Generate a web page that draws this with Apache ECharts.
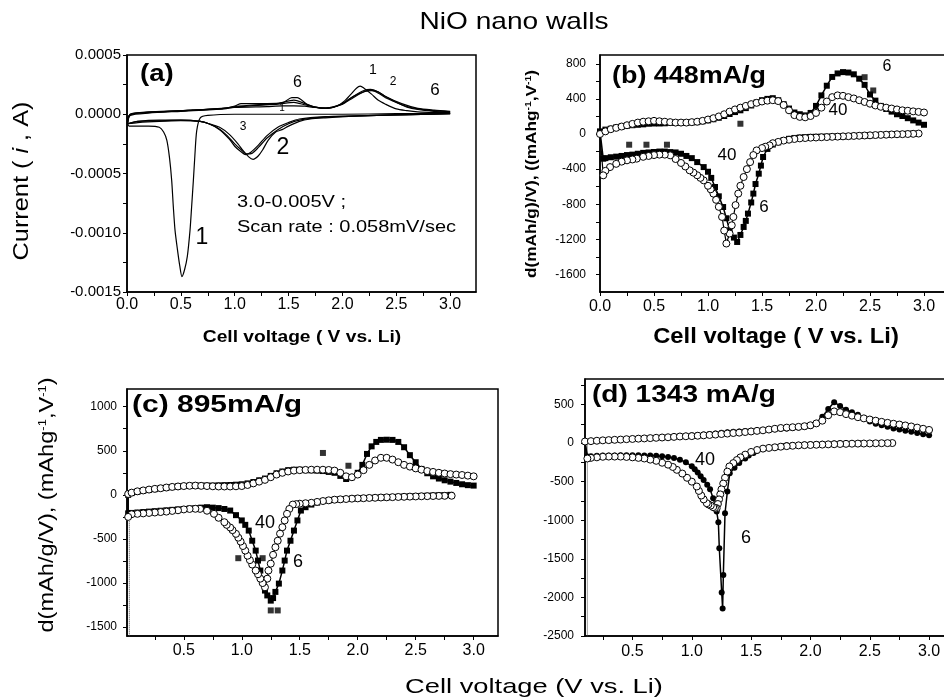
<!DOCTYPE html>
<html lang="en">
<head>
<meta charset="UTF-8">
<title>NiO nano walls</title>
<script src="https://cdn.jsdelivr.net/npm/echarts@6.0.0/dist/echarts.min.js"></script>
<style>
  html, body { margin: 0; padding: 0; background: #fff; }
  #main { width: 944px; height: 700px; }
</style>
</head>
<body>
<div id="main"></div>
<script>
// ---------- panel (a): cyclic voltammetry, current in A ----------
var a1Dis = [[3.0,0.00001],[2.5,0.000005],[2.0,0],[1.5,0],[1.0,0],[0.75,-0.00001],[0.68,-0.00003],[0.647,-0.00014],[0.63,-0.00035],[0.616,-0.00056],[0.6,-0.00078],[0.585,-0.00098],[0.56,-0.0012],[0.535,-0.00131],[0.51,-0.00137],[0.49,-0.00128],[0.468,-0.00114],[0.446,-0.00098],[0.43,-0.00078],[0.415,-0.00056],[0.395,-0.00037],[0.37,-0.00022],[0.34,-0.00015],[0.3,-0.00011],[0.2,-0.0001],[0.1,-0.0001],[0.02,-0.0001],[0.005,-0.00007]];
var a1Chg = [[0.005,-0.00007],[0.02,-0.00001],[0.1,0.00001],[0.3,0.00002],[0.6,0.000034],[1.0,0.000057],[1.3,0.000065],[1.44,0.00007],[1.55,0.00007],[1.65,0.000068],[1.745,0.000057],[1.85,0.000055],[1.95,0.00007],[2.02,0.000113],[2.08,0.00017],[2.13,0.00022],[2.165,0.000237],[2.2,0.00022],[2.27,0.00017],[2.33,0.00012],[2.4,0.000085],[2.5,0.000045],[2.6,0.00003],[2.7,0.00002],[2.85,0.000015],[3.0,0.000014]];
var a2Dis = [[3.0,0.000005],[2.5,-0.000005],[2.15,-0.000014],[1.84,-0.00003],[1.7,-0.00004],[1.6,-0.00006],[1.5,-0.0001],[1.44,-0.00013],[1.38,-0.00015],[1.31,-0.00022],[1.26,-0.0003],[1.22,-0.00035],[1.17,-0.00038],[1.13,-0.00036],[1.08,-0.00031],[1.03,-0.00025],[0.95,-0.00017],[0.86,-0.00011],[0.76,-0.00008],[0.68,-0.00006],[0.5,-0.000055],[0.3,-0.00006],[0.1,-0.00007],[0.005,-0.00008]];
var a2Chg = [[0.005,-0.00008],[0.03,-0.00001],[0.2,0.00001],[0.5,0.000025],[0.9,0.000045],[1.0,0.00006],[1.2,0.000075],[1.4,0.000085],[1.55,0.0001],[1.65,0.00008],[1.75,0.00006],[1.85,0.00005],[1.99,0.00008],[2.1,0.00014],[2.2,0.00019],[2.26,0.000205],[2.33,0.00018],[2.4,0.00014],[2.5,0.0001],[2.6,0.00006],[2.7,0.00004],[2.85,0.000025],[3.0,0.000017]];
var a3Dis = [[3.0,0.000005],[2.5,-0.000005],[2.15,-0.000014],[1.84,-0.000025],[1.6,-0.00005],[1.5,-0.00008],[1.4,-0.00013],[1.3,-0.0002],[1.22,-0.00028],[1.16,-0.00033],[1.11,-0.000335],[1.06,-0.0003],[1.0,-0.00025],[0.93,-0.00018],[0.85,-0.00012],[0.76,-0.00008],[0.68,-0.00006],[0.5,-0.00005],[0.3,-0.000055],[0.1,-0.00006],[0.005,-0.00008]];
var a3Chg = [[0.005,-0.00008],[0.03,0],[0.2,0.000015],[0.5,0.00003],[0.9,0.00005],[1.0,0.000065],[1.2,0.00008],[1.4,0.00009],[1.55,0.00012],[1.65,0.00009],[1.75,0.00006],[1.85,0.00005],[1.99,0.000085],[2.1,0.00015],[2.2,0.0002],[2.26,0.00021],[2.33,0.00019],[2.4,0.00015],[2.55,0.00008],[2.7,0.000045],[2.85,0.00003],[3.0,0.00002]];
var a6Dis = [[3.0,0.000005],[2.5,-0.000005],[2.15,-0.000014],[1.84,-0.00002],[1.6,-0.00004],[1.5,-0.00007],[1.4,-0.00011],[1.3,-0.00018],[1.22,-0.00026],[1.15,-0.00032],[1.1,-0.00034],[1.05,-0.00031],[1.0,-0.00027],[0.95,-0.00021],[0.86,-0.00013],[0.76,-0.00008],[0.68,-0.00006],[0.5,-0.00005],[0.3,-0.00005],[0.1,-0.00006],[0.005,-0.00008]];
var a6Chg = [[0.005,-0.00008],[0.03,0],[0.2,0.00002],[0.5,0.00003],[0.9,0.00005],[1.0,0.00007],[1.06,0.00009],[1.3,0.00009],[1.45,0.0001],[1.53,0.00014],[1.58,0.00014],[1.67,0.000085],[1.745,0.00006],[1.84,0.00005],[1.99,0.000085],[2.1,0.00015],[2.2,0.00019],[2.27,0.0002],[2.33,0.00019],[2.4,0.00015],[2.55,0.00009],[2.7,0.00005],[2.85,0.000035],[3.0,0.000025]];

// ---------- panel (b): 448 mA/g, dQ/dV ----------
var b6Dis = [[2.9,5],[2.85,2],[2.8,0],[2.75,-2],[2.7,-5],[2.65,-8],[2.6,-10],[2.55,-12],[2.5,-15],[2.45,-18],[2.4,-20],[2.35,-22],[2.3,-25],[2.25,-27],[2.2,-28],[2.15,-29],[2.1,-30],[2.05,-31],[2.0,-32],[1.95,-33],[1.9,-35],[1.85,-40],[1.8,-45],[1.75,-55],[1.7,-70],[1.65,-95],[1.6,-120],[1.55,-170],[1.51,-262],[1.49,-360],[1.47,-452],[1.44,-570],[1.42,-679],[1.4,-780],[1.37,-907],[1.35,-990],[1.33,-1059],[1.3,-1150],[1.27,-1230],[1.24,-1180],[1.2,-1097],[1.17,-960],[1.14,-832],[1.1,-710],[1.065,-604],[1.03,-500],[1.0,-430],[0.96,-377],[0.9,-320],[0.85,-275],[0.8,-250],[0.75,-225],[0.7,-210],[0.65,-206],[0.6,-200],[0.55,-200],[0.5,-205],[0.45,-210],[0.4,-215],[0.35,-225],[0.3,-235],[0.25,-240],[0.2,-250],[0.15,-258],[0.1,-265],[0.05,-275],[0.03,-281]];
var b6Chg = [[0,30],[0.05,50],[0.1,60],[0.15,75],[0.2,85],[0.25,95],[0.3,100],[0.35,105],[0.4,110],[0.45,117],[0.5,120],[0.55,120],[0.6,122],[0.65,125],[0.7,125],[0.75,128],[0.8,130],[0.85,132],[0.9,135],[0.95,145],[1.0,155],[1.05,168],[1.1,185],[1.15,205],[1.2,228],[1.25,250],[1.3,270],[1.35,295],[1.4,325],[1.45,360],[1.5,385],[1.55,400],[1.6,408],[1.65,385],[1.7,340],[1.75,290],[1.8,245],[1.85,225],[1.9,212],[1.95,240],[2.0,320],[2.05,440],[2.1,550],[2.15,650],[2.2,690],[2.25,705],[2.3,700],[2.35,680],[2.4,630],[2.45,560],[2.5,450],[2.55,380],[2.6,320],[2.65,285],[2.7,255],[2.75,225],[2.8,205],[2.85,180],[2.9,155],[2.95,130],[3.0,105]];
var b40Dis = [[2.95,5],[2.9,2],[2.85,0],[2.8,-2],[2.75,-3],[2.7,-5],[2.65,-8],[2.6,-10],[2.55,-12],[2.5,-15],[2.45,-17],[2.4,-20],[2.35,-22],[2.3,-25],[2.25,-27],[2.2,-30],[2.15,-32],[2.1,-35],[2.05,-37],[2.0,-40],[1.95,-42],[1.9,-46],[1.85,-50],[1.8,-57],[1.75,-65],[1.7,-75],[1.65,-90],[1.6,-105],[1.57,-130],[1.53,-145],[1.5,-160],[1.45,-187],[1.42,-240],[1.39,-320],[1.36,-400],[1.33,-490],[1.3,-590],[1.28,-679],[1.255,-810],[1.235,-945],[1.22,-1040],[1.2,-1134],[1.17,-1248],[1.15,-1100],[1.13,-945],[1.1,-830],[1.075,-750],[1.05,-679],[1.025,-630],[1.0,-590],[0.96,-528],[0.93,-500],[0.9,-470],[0.865,-440],[0.83,-414],[0.79,-370],[0.75,-330],[0.7,-285],[0.65,-243],[0.6,-235],[0.55,-235],[0.5,-240],[0.45,-250],[0.4,-260],[0.34,-281],[0.3,-290],[0.25,-300],[0.2,-315],[0.15,-340],[0.093,-377],[0.05,-420],[0.03,-471]];
var b40Chg = [[0,0],[0.05,30],[0.1,55],[0.15,70],[0.2,85],[0.25,100],[0.3,115],[0.35,130],[0.4,140],[0.45,145],[0.5,150],[0.55,145],[0.6,140],[0.65,135],[0.7,130],[0.75,130],[0.8,130],[0.85,135],[0.9,140],[0.95,150],[1.0,165],[1.05,180],[1.1,200],[1.15,225],[1.2,255],[1.25,280],[1.3,300],[1.35,320],[1.4,340],[1.45,355],[1.5,370],[1.55,380],[1.6,385],[1.65,375],[1.7,330],[1.75,270],[1.8,215],[1.85,195],[1.9,190],[1.95,205],[2.0,240],[2.05,300],[2.1,370],[2.15,420],[2.2,440],[2.25,435],[2.3,420],[2.35,405],[2.4,385],[2.45,365],[2.5,345],[2.55,325],[2.6,310],[2.65,300],[2.7,290],[2.75,280],[2.8,270],[2.85,265],[2.9,258],[2.95,252],[3.0,245]];
var b6Stray = [[0.27,-122],[0.43,-122],[0.62,-122],[1.3,117],[2.45,647],[2.53,496]];

// ---------- panel (c): 895 mA/g ----------
var c6Dis = [[2.8,0],[2.75,-3],[2.7,-5],[2.65,-8],[2.6,-10],[2.55,-12],[2.5,-15],[2.45,-18],[2.4,-20],[2.35,-22],[2.3,-25],[2.25,-28],[2.2,-30],[2.15,-33],[2.1,-35],[2.05,-38],[2.0,-40],[1.95,-43],[1.9,-47],[1.85,-51],[1.8,-55],[1.75,-62],[1.7,-70],[1.65,-88],[1.6,-110],[1.55,-140],[1.51,-178],[1.48,-290],[1.45,-405],[1.42,-520],[1.39,-632],[1.37,-745],[1.35,-858],[1.32,-1006],[1.29,-1100],[1.27,-1170],[1.25,-1199],[1.22,-1140],[1.2,-1085],[1.18,-970],[1.16,-858],[1.14,-745],[1.12,-632],[1.09,-520],[1.06,-405],[1.03,-340],[1.0,-290],[0.95,-230],[0.9,-178],[0.85,-160],[0.8,-150],[0.75,-145],[0.7,-140],[0.65,-145],[0.6,-150],[0.55,-155],[0.5,-160],[0.45,-165],[0.4,-170],[0.35,-175],[0.3,-180],[0.25,-185],[0.2,-190],[0.15,-195],[0.1,-200],[0.05,-205],[0.02,-210]];
var c6Chg = [[0.02,0],[0.05,20],[0.1,35],[0.15,45],[0.2,55],[0.25,65],[0.3,75],[0.35,80],[0.4,88],[0.45,95],[0.5,100],[0.55,103],[0.6,105],[0.65,105],[0.7,105],[0.75,105],[0.8,108],[0.85,110],[0.9,112],[0.95,115],[1.0,120],[1.05,130],[1.1,145],[1.15,165],[1.2,185],[1.25,215],[1.3,245],[1.35,265],[1.4,280],[1.45,285],[1.5,285],[1.55,280],[1.6,278],[1.65,275],[1.7,270],[1.75,260],[1.8,250],[1.85,215],[1.9,180],[1.95,200],[2.0,250],[2.04,340],[2.08,464],[2.12,550],[2.16,600],[2.2,623],[2.25,625],[2.3,623],[2.35,600],[2.4,540],[2.45,450],[2.5,370],[2.55,294],[2.6,245],[2.65,210],[2.7,185],[2.75,165],[2.8,150],[2.85,135],[2.9,120],[2.95,110],[3.0,105]];
var c40Dis = [[2.81,-10],[2.75,-11],[2.7,-12],[2.65,-13],[2.6,-15],[2.55,-16],[2.5,-18],[2.45,-20],[2.4,-22],[2.35,-24],[2.3,-26],[2.25,-28],[2.2,-30],[2.15,-33],[2.1,-35],[2.05,-38],[2.0,-40],[1.95,-43],[1.9,-47],[1.85,-51],[1.8,-55],[1.75,-62],[1.7,-70],[1.65,-80],[1.6,-90],[1.55,-95],[1.5,-100],[1.47,-105],[1.44,-110],[1.41,-160],[1.39,-215],[1.37,-290],[1.35,-367],[1.33,-440],[1.31,-520],[1.29,-594],[1.27,-680],[1.25,-780],[1.23,-858],[1.22,-950],[1.2,-1048],[1.18,-1000],[1.16,-950],[1.14,-900],[1.12,-858],[1.09,-790],[1.07,-740],[1.05,-690],[1.03,-632],[1.01,-580],[0.99,-530],[0.97,-485],[0.95,-442],[0.92,-400],[0.9,-370],[0.87,-340],[0.85,-310],[0.8,-260],[0.76,-215],[0.7,-180],[0.64,-159],[0.6,-158],[0.55,-160],[0.5,-165],[0.45,-175],[0.4,-182],[0.35,-190],[0.3,-195],[0.25,-200],[0.2,-205],[0.15,-210],[0.1,-215],[0.05,-220],[0.02,-250]];
var c40Chg = [[0.02,10],[0.05,25],[0.1,40],[0.15,50],[0.2,60],[0.25,68],[0.3,75],[0.35,83],[0.4,90],[0.45,95],[0.5,100],[0.55,103],[0.6,105],[0.65,102],[0.7,100],[0.75,97],[0.8,95],[0.85,95],[0.9,95],[0.95,97],[1.0,100],[1.05,112],[1.1,130],[1.15,150],[1.2,170],[1.25,200],[1.3,230],[1.35,250],[1.4,265],[1.45,275],[1.5,280],[1.55,283],[1.6,285],[1.65,285],[1.7,285],[1.75,282],[1.8,275],[1.85,250],[1.9,210],[1.95,200],[2.0,230],[2.05,280],[2.1,340],[2.15,390],[2.2,420],[2.25,420],[2.3,400],[2.35,370],[2.4,340],[2.45,320],[2.5,300],[2.55,285],[2.6,270],[2.65,260],[2.7,250],[2.75,242],[2.8,235],[2.85,230],[2.9,225],[2.95,218],[3.0,210]];
var c6Stray = [[0.97,-718],[1.18,-718],[1.25,-1310],[1.31,-1310],[1.7,475],[1.92,330]];
var cDrop = [[0.03,-300],[0.03,-1700]];

// ---------- panel (d): 1343 mA/g ----------
var d6Dis = [[2.41,0],[2.35,-2],[2.3,-3],[2.25,-4],[2.2,-5],[2.15,-8],[2.1,-10],[2.05,-12],[2.0,-15],[1.95,-18],[1.9,-22],[1.85,-26],[1.8,-30],[1.77,-42],[1.74,-52],[1.7,-55],[1.65,-60],[1.6,-75],[1.55,-100],[1.52,-130],[1.48,-160],[1.45,-200],[1.4,-260],[1.36,-320],[1.32,-390],[1.3,-628],[1.28,-909],[1.266,-1710],[1.26,-2143],[1.252,-1935],[1.232,-1364],[1.224,-1026],[1.21,-888],[1.18,-714],[1.154,-600],[1.13,-540],[1.1,-480],[1.075,-430],[1.05,-380],[1.025,-340],[1.0,-300],[0.95,-250],[0.9,-215],[0.85,-195],[0.8,-180],[0.75,-172],[0.7,-165],[0.65,-162],[0.6,-160],[0.55,-158],[0.5,-158],[0.45,-158],[0.4,-158],[0.35,-160],[0.3,-160],[0.25,-162],[0.2,-165],[0.15,-170],[0.12,-174]];
var d6Chg = [[0.1,20],[0.15,25],[0.2,30],[0.25,35],[0.3,40],[0.35,42],[0.4,45],[0.45,50],[0.5,55],[0.55,58],[0.6,60],[0.65,65],[0.7,70],[0.75,75],[0.8,80],[0.85,85],[0.9,90],[0.95,95],[1.0,100],[1.05,105],[1.1,110],[1.15,118],[1.2,125],[1.25,132],[1.3,140],[1.35,145],[1.4,150],[1.45,155],[1.5,160],[1.55,165],[1.6,170],[1.65,175],[1.7,180],[1.75,185],[1.8,190],[1.85,195],[1.9,200],[1.95,208],[2.0,220],[2.05,260],[2.1,340],[2.15,440],[2.2,530],[2.25,480],[2.3,430],[2.35,400],[2.4,368],[2.45,320],[2.5,280],[2.55,250],[2.6,230],[2.65,210],[2.7,190],[2.75,175],[2.8,160],[2.85,145],[2.9,130],[2.95,115],[3.0,100]];
var d40Dis = [[2.69,0],[2.65,-1],[2.6,-2],[2.55,-3],[2.5,-5],[2.45,-6],[2.4,-7],[2.35,-8],[2.3,-10],[2.25,-12],[2.2,-15],[2.15,-17],[2.1,-20],[2.05,-22],[2.0,-25],[1.95,-27],[1.9,-30],[1.85,-35],[1.8,-40],[1.75,-47],[1.7,-55],[1.65,-63],[1.6,-72],[1.55,-90],[1.5,-115],[1.45,-150],[1.41,-185],[1.38,-220],[1.35,-260],[1.317,-303],[1.3,-370],[1.28,-450],[1.265,-525],[1.25,-600],[1.24,-665],[1.23,-730],[1.22,-790],[1.21,-844],[1.195,-840],[1.18,-830],[1.16,-810],[1.14,-795],[1.126,-779],[1.1,-730],[1.08,-680],[1.06,-620],[1.042,-563],[1.0,-500],[0.96,-450],[0.92,-395],[0.874,-347],[0.84,-310],[0.8,-280],[0.75,-255],[0.7,-230],[0.65,-215],[0.6,-200],[0.55,-192],[0.5,-185],[0.45,-180],[0.4,-175],[0.35,-175],[0.3,-175],[0.25,-178],[0.2,-185],[0.15,-192],[0.12,-200]];
var d40Chg = [[0.1,20],[0.15,25],[0.2,30],[0.25,35],[0.3,38],[0.35,42],[0.4,45],[0.45,50],[0.5,53],[0.55,57],[0.6,60],[0.65,64],[0.7,68],[0.75,72],[0.8,75],[0.85,80],[0.9,85],[0.95,88],[1.0,90],[1.05,95],[1.1,100],[1.15,105],[1.2,110],[1.25,117],[1.3,123],[1.35,130],[1.4,135],[1.45,143],[1.5,150],[1.55,158],[1.6,165],[1.65,175],[1.7,185],[1.75,195],[1.8,200],[1.85,205],[1.9,210],[1.95,218],[2.0,230],[2.05,255],[2.1,290],[2.15,360],[2.2,410],[2.25,400],[2.3,375],[2.35,355],[2.4,335],[2.45,320],[2.5,305],[2.55,290],[2.6,275],[2.65,262],[2.7,250],[2.75,240],[2.8,228],[2.85,215],[2.9,200],[2.95,185],[3.0,170]];
var dDrop = [[0.12,20],[0.12,-2600]];

// ---------- ticks and labels ----------
var xTicks0 = [0,0.25,0.5,0.75,1,1.25,1.5,1.75,2,2.25,2.5,2.75,3];
var xLabels0 = [0,0.5,1,1.5,2,2.5,3];
var xTicks1 = [0.25,0.5,0.75,1,1.25,1.5,1.75,2,2.25,2.5,2.75,3];
var xLabels1 = [0.5,1,1.5,2,2.5,3];
var aYTicks = [-0.0015,-0.00125,-0.001,-0.00075,-0.0005,-0.00025,0,0.00025,0.0005];
var aYLabels = [-0.0015,-0.001,-0.0005,0,0.0005];
var bYTicks = [-1600,-1400,-1200,-1000,-800,-600,-400,-200,0,200,400,600,800];
var bYLabels = [-1600,-1200,-800,-400,0,400,800];
var cYTicks = [-1500,-1250,-1000,-750,-500,-250,0,250,500,750,1000];
var cYLabels = [-1500,-1000,-500,0,500,1000];
var dYTicks = [-2500,-2250,-2000,-1750,-1500,-1250,-1000,-750,-500,-250,0,250,500,750];
var dYLabels = [-2500,-2000,-1500,-1000,-500,0,500];

var FONT = '"Liberation Sans", Arial, sans-serif';

function xAx(gi, min, max, ticks, labels, margin) {
  return {
    gridIndex: gi, type: 'value', min: min, max: max,
    axisLine: { show: true, onZero: false, lineStyle: { color: '#000', width: 1.5 } },
    axisTick: { show: true, inside: false, length: 4, customValues: ticks, lineStyle: { color: '#000', width: 1 } },
    axisLabel: { customValues: labels, margin: margin, color: '#000', fontSize: 16, fontFamily: FONT,
      formatter: function (v) { return v.toFixed(1); } },
    splitLine: { show: false }
  };
}
function yAx(gi, min, max, ticks, labels, fs, margin, digits) {
  return {
    gridIndex: gi, type: 'value', min: min, max: max,
    axisLine: { show: true, onZero: false, lineStyle: { color: '#000', width: 1.5 } },
    axisTick: { show: true, inside: false, length: 4, customValues: ticks, lineStyle: { color: '#000', width: 1 } },
    axisLabel: { customValues: labels, margin: margin, color: '#000', fontSize: fs, fontFamily: FONT,
      formatter: function (v) { return v.toFixed(digits); } },
    splitLine: { show: false }
  };
}

function curve(gi, data) {
  return { type: 'line', xAxisIndex: gi, yAxisIndex: gi, data: data, symbol: 'none', smooth: 0.25,
    lineStyle: { color: '#000', width: 1.2 }, silent: true };
}
function squares(gi, data) {
  return { type: 'line', xAxisIndex: gi, yAxisIndex: gi, data: data, symbol: 'rect', symbolSize: 6,
    itemStyle: { color: '#000' }, lineStyle: { color: '#000', width: 1.5 }, silent: true };
}
function circles(gi, data) {
  return { type: 'line', xAxisIndex: gi, yAxisIndex: gi, data: data, symbol: 'circle', symbolSize: 7,
    itemStyle: { color: '#fff', borderColor: '#000', borderWidth: 1 }, lineStyle: { color: '#000', width: 1.2 }, silent: true };
}
function dots(gi, data) {
  return { type: 'line', xAxisIndex: gi, yAxisIndex: gi, data: data, symbol: 'circle', symbolSize: 6,
    itemStyle: { color: '#000' }, lineStyle: { color: '#000', width: 1.5 }, silent: true };
}
function stray(gi, data) {
  return { type: 'scatter', xAxisIndex: gi, yAxisIndex: gi, data: data, symbol: 'rect', symbolSize: 6,
    itemStyle: { color: '#000' }, silent: true };
}
function drop(gi, data) {
  return { type: 'line', xAxisIndex: gi, yAxisIndex: gi, data: data, symbol: 'none',
    lineStyle: { color: '#444', width: 1, type: 'dotted' }, silent: true };
}

function T(x, y, text, size, o) {
  o = o || {};
  var st = { text: text, fontSize: size, fontFamily: FONT, fontWeight: o.bold ? 'bold' : 'normal', fill: '#000',
    textAlign: o.align || 'center', textVerticalAlign: 'middle', align: o.align || 'center', verticalAlign: 'middle' };
  if (o.rich) st.rich = o.rich;
  return { type: 'text', x: x, y: y, rotation: o.rot || 0, scaleX: o.sx || 1, z: 100, silent: true, style: st };
}

var gridBase = { show: true, borderColor: '#000', borderWidth: 1.5, backgroundColor: 'transparent', containLabel: false, outerBoundsMode: 'none' };
function G(l, t, w, h) { return Object.assign({ left: l, top: t, width: w, height: h }, gridBase); }

var supB = { s: { fontSize: 9, fontWeight: 'bold', fontFamily: FONT, verticalAlign: 'top' } };
var supN = { s: { fontSize: 11, fontFamily: FONT, verticalAlign: 'top' } };

var option = {
  animation: false,
  backgroundColor: '#fff',
  grid: [ G(127, 55, 349, 237), G(600, 55, 351, 237), G(127, 389, 371, 247), G(585, 379, 369, 257) ],
  xAxis: [
    xAx(0, 0, 3.24, xTicks0, xLabels0, 5),
    xAx(1, 0, 3.25, xTicks0, xLabels0, 7),
    xAx(2, 0.01, 3.21, xTicks1, xLabels1, 7),
    xAx(3, 0.1, 3.21, xTicks1, xLabels1, 8)
  ],
  yAxis: [
    yAx(0, -0.0015, 0.0005, aYTicks, aYLabels, 15, 6, 4),
    yAx(1, -1800, 900, bYTicks, bYLabels, 12, 14, 0),
    yAx(2, -1600, 1200, cYTicks, cYLabels, 12, 10, 0),
    yAx(3, -2500, 830, dYTicks, dYLabels, 12, 11, 0)
  ],
  series: [
    curve(0, a1Dis.concat(a1Chg)),
    curve(0, a2Dis.concat(a2Chg)),
    curve(0, a3Dis.concat(a3Chg)),
    curve(0, a6Dis.concat(a6Chg)),

    squares(1, b6Dis.concat(b6Chg)),
    stray(1, b6Stray),
    circles(1, b40Dis.concat(b40Chg)),

    drop(2, cDrop),
    squares(2, c6Dis.concat(c6Chg)),
    stray(2, c6Stray),
    circles(2, c40Dis.concat(c40Chg)),

    drop(3, dDrop),
    dots(3, d6Dis.concat(d6Chg)),
    circles(3, d40Dis.concat(d40Chg))
  ],
  graphic: [
    T(514, 22.5, 'NiO nano walls', 24, { sx: 1.17 }),
    T(534, 687, 'Cell voltage (V vs. Li)', 21, { sx: 1.3 }),
    T(302, 338, 'Cell voltage ( V vs. Li)', 16, { bold: true, sx: 1.2 }),
    T(776, 337, 'Cell voltage ( V vs. Li)', 22, { bold: true, sx: 1.08 }),
    T(22, 181, 'Current ( {i|i} , A)', 22, { rot: Math.PI / 2, sx: 1.15,
      rich: { i: { fontSize: 22, fontFamily: FONT, fontStyle: 'italic' } } }),
    T(532, 174, 'd(mAh/g)/V), ((mAhg{s|-1},V{s|-1})', 15, { bold: true, rot: Math.PI / 2, sx: 1.15, rich: supB }),
    T(47, 505, 'd(mAh/g/V), (mAhg{s|-1},V{s|-1})', 20, { rot: Math.PI / 2, sx: 1.18, rich: supN }),

    T(140, 75, '(a)', 23, { bold: true, align: 'left', sx: 1.2 }),
    T(612, 77, '(b) 448mA/g', 23, { bold: true, align: 'left', sx: 1.17 }),
    T(132, 405, '(c) 895mA/g', 24, { bold: true, align: 'left', sx: 1.25 }),
    T(592, 396, '(d) 1343 mA/g', 23, { bold: true, align: 'left', sx: 1.22 }),

    T(297.5, 82.5, '6', 16), T(373, 70, '1', 14), T(393, 82, '2', 12), T(435, 90, '6', 17),
    T(282, 108, '1', 10), T(243, 127, '3', 12), T(283, 148, '2', 23), T(202, 238, '1', 23),
    T(237, 203, '3.0-0.005V ;', 16, { align: 'left', sx: 1.25 }),
    T(237, 228, 'Scan rate : 0.058mV/sec', 16, { align: 'left', sx: 1.25 }),

    T(887, 67, '6', 16), T(838, 110, '40', 17), T(727, 155, '40', 17), T(764, 207, '6', 17),
    T(265, 523, '40', 18), T(298, 562, '6', 18),
    T(705, 460, '40', 18), T(746, 538, '6', 18)
  ]
};

var chart = echarts.init(document.getElementById('main'), null, { renderer: 'canvas' });
chart.setOption(option);
</script>
</body>
</html>
